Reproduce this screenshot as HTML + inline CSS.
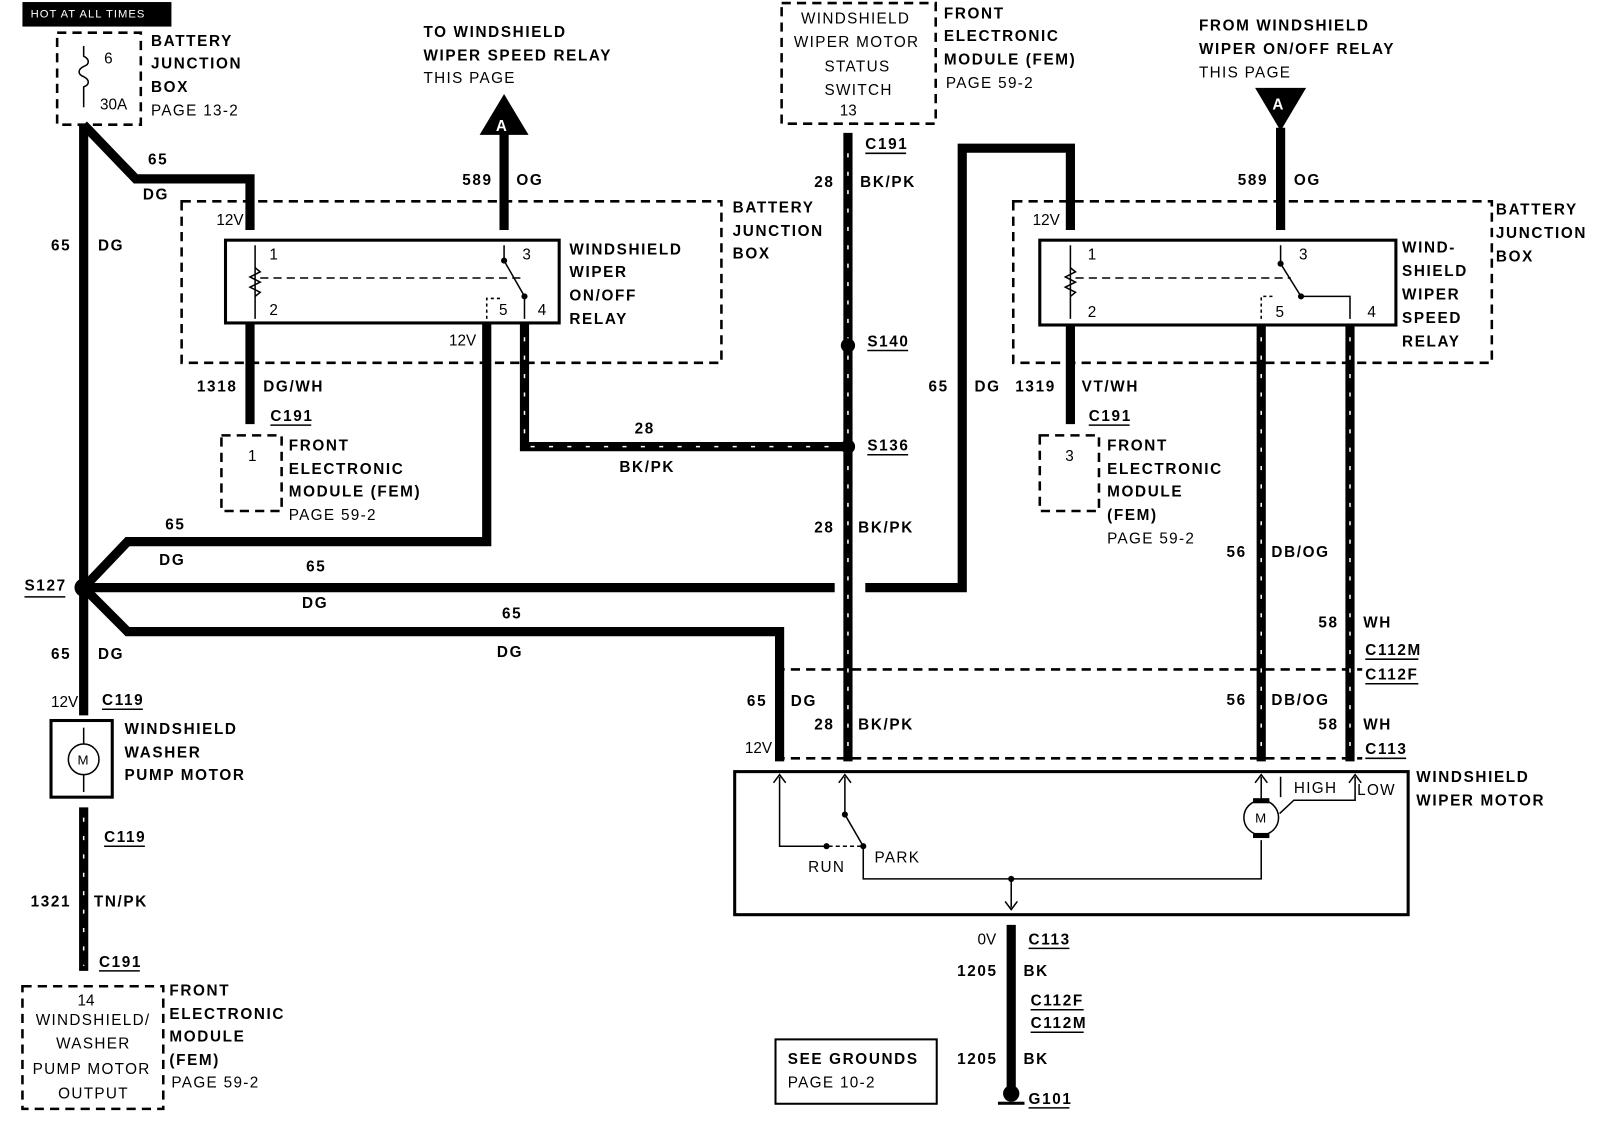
<!DOCTYPE html>
<html><head><style>
html,body{margin:0;padding:0;background:#fff;}
svg{display:block}
text{font-family:"Liberation Sans",sans-serif;font-size:15px;fill:#000;}
.b{font-weight:bold;letter-spacing:1.6px}
.s{font-size:11px}
.n{letter-spacing:1.3px}
</style></head><body>
<svg width="1600" height="1124" viewBox="0 0 1600 1124" xmlns="http://www.w3.org/2000/svg">
<g transform="scale(1.0204,1.022)">
<g fill="none" stroke="#000">
<g stroke-width="2.5" stroke-dasharray="9 6">
<rect x="56" y="32" width="82" height="90"/>
<rect x="178" y="197" width="529" height="158"/>
<rect x="217" y="426" width="59" height="74"/>
<rect x="766" y="3" width="151" height="118"/>
<rect x="993" y="197" width="469" height="158"/>
<rect x="1019" y="426" width="58" height="74"/>
<rect x="22" y="965" width="138" height="120"/>
<line x1="760" y1="655" x2="1335" y2="655"/>
<line x1="760" y1="742" x2="1335" y2="742"/>
</g>
<rect x="221" y="235" width="327" height="81" stroke-width="3"/>
<rect x="1019" y="235" width="349" height="83" stroke-width="3"/>
<rect x="720" y="755" width="660" height="140" stroke-width="3"/>
<rect x="50" y="705" width="60" height="75" stroke-width="3"/>
<rect x="760" y="1017" width="158" height="63" stroke-width="2"/>
<g stroke-width="9" stroke-linejoin="miter">
<polyline points="82,122 82,700"/>
<polyline points="82,122 133,175 245,175 245,225"/>
<line x1="494" y1="130" x2="494" y2="225"/>
<line x1="245" y1="316" x2="245" y2="415"/>
<polyline points="477,316 477,530 125,530 82,575"/>
<polyline points="514,316 514,437 831,437"/>
<line x1="831" y1="130" x2="831" y2="745"/>
<line x1="82" y1="575" x2="818" y2="575"/>
<polyline points="848,575 943,575 943,145 1049,145 1049,225"/>
<polyline points="82,575 125,618 764,618 764,745"/>
<line x1="1255" y1="125" x2="1255" y2="225"/>
<line x1="1049" y1="318" x2="1049" y2="415"/>
<line x1="1236" y1="318" x2="1236" y2="745"/>
<line x1="1323" y1="318" x2="1323" y2="745"/>
<line x1="82" y1="790" x2="82" y2="950"/>
<line x1="991" y1="905" x2="991" y2="1065"/>
</g>
<g stroke="#fff" stroke-width="1.5" stroke-dasharray="4 14">
<line x1="831" y1="150" x2="831" y2="740"/>
<line x1="514" y1="330" x2="514" y2="437"/>
<line x1="520" y1="437" x2="825" y2="437"/>
<line x1="1236" y1="330" x2="1236" y2="740"/>
<line x1="1323" y1="330" x2="1323" y2="740"/>
<line x1="82" y1="800" x2="82" y2="945"/>
</g>
<g stroke-width="1.5">
<line x1="250" y1="240" x2="250" y2="312"/>
<path d="M250 262 l5 4 -10 5 10 5 -10 5 10 5 -5 4"/>
<line x1="255" y1="272" x2="515" y2="272" stroke-dasharray="8 5"/>
<polyline points="494,240 494,255 514,290 514,312"/>
<polyline points="477,312 477,292 490,292" stroke-dasharray="3 3"/>
<line x1="1049" y1="240" x2="1049" y2="312"/>
<path d="M1049 262 l5 4 -10 5 10 5 -10 5 10 5 -5 4"/>
<line x1="1054" y1="272" x2="1265" y2="272" stroke-dasharray="8 5"/>
<polyline points="1255,240 1255,258 1275,290 1323,290 1323,312"/>
<polyline points="1236,312 1236,290 1250,290" stroke-dasharray="3 3"/>
<path d="M82 45 v10 c6 3 6 8 0 10 c-6 3 -6 8 0 10 c6 3 6 8 0 10 v20"/>
<polyline points="764,760 764,828 810,828"/>
<polyline points="828,760 828,797 846,828"/>
<line x1="812" y1="828" x2="846" y2="828" stroke-dasharray="4 3"/>
<polyline points="846,828 846,860 1236,860 1236,822"/>
<polyline points="1236,760 1236,782"/>
<circle cx="1236" cy="800" r="17"/>
<polyline points="1254,796 1268,783 1328,783 1328,760"/>
<line x1="1255" y1="760" x2="1255" y2="780"/>
<line x1="991" y1="860" x2="991" y2="888"/>
<circle cx="82" cy="743" r="15"/>
<line x1="82" y1="712" x2="82" y2="728"/><line x1="82" y1="758" x2="82" y2="775"/>
<path d="M758 766 l6-8 6 8 M822 766 l6-8 6 8 M1230 766 l6-8 6 8 M1322 766 l6-8 6 8 M985 882 l6 8 6-8"/>
<!-- underlines -->
<path d="M24 584 h40 M100 694 h40 M102 828 h40 M97 950 h40 M265 416 h40 M1067 416 h40 M848 150 h40 M850 343 h40 M850 445 h40 M1338 645 h52 M1338 669 h52 M1338 742 h40 M1008 928 h40 M1010 988 h52 M1010 1010 h52 M1008 1084 h40"/>
</g>
</g>
<rect x="22" y="2" width="146" height="24" fill="#000"/>
<text x="30" y="17" class="s" style="fill:#fff;letter-spacing:1px">HOT AT ALL TIMES</text>
<polygon points="494,92 470,132 518,132" fill="#000"/>
<text x="486" y="128" class="b" style="fill:#fff">A</text>
<polygon points="1230,86 1280,86 1255,128" fill="#000"/>
<text x="1247" y="107" class="b" style="fill:#fff">A</text>
<g fill="#000">
<circle cx="82" cy="575" r="9"/><circle cx="831" cy="338" r="7"/><circle cx="831" cy="437" r="7"/>
<circle cx="991" cy="1070" r="8"/><circle cx="828" cy="797" r="3"/><circle cx="810" cy="828" r="3"/><circle cx="846" cy="828" r="3"/>
<circle cx="991" cy="860" r="3"/><rect x="1228" y="781" width="16" height="5"/><rect x="1228" y="815" width="16" height="5"/>
<circle cx="494" cy="255" r="3"/><circle cx="514" cy="290" r="3"/><circle cx="1255" cy="258" r="3"/><circle cx="1275" cy="290" r="3"/>
</g>
<rect x="978" y="1078" width="26" height="3" fill="#000"/>
<g class="b">
<text x="148" y="45">BATTERY</text><text x="148" y="67">JUNCTION</text><text x="148" y="90">BOX</text>
<text x="415" y="36">TO WINDSHIELD</text><text x="415" y="59">WIPER SPEED RELAY</text>
<text x="925" y="18">FRONT</text><text x="925" y="40">ELECTRONIC</text><text x="925" y="63">MODULE (FEM)</text>
<text x="1175" y="30">FROM WINDSHIELD</text><text x="1175" y="53">WIPER ON/OFF RELAY</text>
<text x="145" y="161">65</text><text x="140" y="195">DG</text>
<text x="453" y="181">589</text><text x="506" y="181">OG</text>
<text x="798" y="183">28</text><text x="843" y="183">BK/PK</text><text x="848" y="146">C191</text>
<text x="1213" y="181">589</text><text x="1268" y="181">OG</text>
<text x="718" y="208">BATTERY</text><text x="718" y="231">JUNCTION</text><text x="718" y="253">BOX</text>
<text x="1466" y="210">BATTERY</text><text x="1466" y="233">JUNCTION</text><text x="1466" y="256">BOX</text>
<text x="50" y="245">65</text><text x="96" y="245">DG</text>
<text x="558" y="249">WINDSHIELD</text><text x="558" y="271">WIPER</text><text x="558" y="294">ON/OFF</text><text x="558" y="317">RELAY</text>
<text x="1374" y="247">WIND-</text><text x="1374" y="270">SHIELD</text><text x="1374" y="293">WIPER</text><text x="1374" y="316">SPEED</text><text x="1374" y="339">RELAY</text>
<text x="850" y="339">S140</text><text x="850" y="441">S136</text>
<text x="193" y="383">1318</text><text x="258" y="383">DG/WH</text><text x="265" y="412">C191</text>
<text x="910" y="383">65</text><text x="955" y="383">DG</text><text x="995" y="383">1319</text><text x="1060" y="383">VT/WH</text><text x="1067" y="412">C191</text>
<text x="622" y="424">28</text><text x="607" y="462">BK/PK</text>
<text x="283" y="441">FRONT</text><text x="283" y="464">ELECTRONIC</text><text x="283" y="486">MODULE (FEM)</text>
<text x="1085" y="441">FRONT</text><text x="1085" y="464">ELECTRONIC</text><text x="1085" y="486">MODULE</text><text x="1085" y="509">(FEM)</text>
<text x="162" y="518">65</text><text x="156" y="553">DG</text><text x="300" y="559">65</text><text x="296" y="595">DG</text>
<text x="798" y="521">28</text><text x="841" y="521">BK/PK</text>
<text x="1202" y="545">56</text><text x="1246" y="545">DB/OG</text>
<text x="24" y="578">S127</text>
<text x="492" y="605">65</text><text x="487" y="643">DG</text>
<text x="1292" y="614">58</text><text x="1336" y="614">WH</text><text x="1338" y="641">C112M</text><text x="1338" y="665">C112F</text>
<text x="50" y="645">65</text><text x="96" y="645">DG</text>
<text x="100" y="690">C119</text>
<text x="732" y="691">65</text><text x="775" y="691">DG</text><text x="1202" y="690">56</text><text x="1246" y="690">DB/OG</text>
<text x="798" y="714">28</text><text x="841" y="714">BK/PK</text><text x="1292" y="714">58</text><text x="1336" y="714">WH</text><text x="1338" y="738">C113</text>
<text x="122" y="718">WINDSHIELD</text><text x="122" y="741">WASHER</text><text x="122" y="763">PUMP MOTOR</text>
<text x="1388" y="765">WINDSHIELD</text><text x="1388" y="788">WIPER MOTOR</text>
<text x="102" y="824">C119</text><text x="30" y="887">1321</text><text x="92" y="887">TN/PK</text><text x="97" y="946">C191</text>
<text x="166" y="974">FRONT</text><text x="166" y="997">ELECTRONIC</text><text x="166" y="1019">MODULE</text><text x="166" y="1042">(FEM)</text>
<text x="1008" y="924">C113</text><text x="938" y="955">1205</text><text x="1003" y="955">BK</text>
<text x="1010" y="984">C112F</text><text x="1010" y="1006">C112M</text>
<text x="938" y="1041">1205</text><text x="1003" y="1041">BK</text><text x="1008" y="1080">G101</text>
<text x="772" y="1041">SEE GROUNDS</text>
</g>
<g class="n">
<text x="148" y="113">PAGE 13-2</text><text x="415" y="81">THIS PAGE</text>
<text x="785" y="23">WINDSHIELD</text><text x="778" y="46">WIPER MOTOR</text><text x="808" y="70">STATUS</text><text x="808" y="93">SWITCH</text>
<text x="927" y="86">PAGE 59-2</text><text x="1175" y="76">THIS PAGE</text>
<text x="283" y="509">PAGE 59-2</text><text x="1085" y="532">PAGE 59-2</text>
<text x="35" y="1003">WINDSHIELD/</text><text x="55" y="1026">WASHER</text><text x="32" y="1051">PUMP MOTOR</text><text x="57" y="1075">OUTPUT</text>
<text x="168" y="1064">PAGE 59-2</text><text x="772" y="1064">PAGE 10-2</text>
<text x="1268" y="776">HIGH</text><text x="1330" y="778">LOW</text><text x="857" y="844">PARK</text><text x="792" y="853">RUN</text>
<text x="1230" y="805" style="font-size:13px">M</text><text x="76" y="748" style="font-size:13px">M</text>
</g>
<g class="s">
<text x="102" y="62">6</text><text x="98" y="107">30A</text><text x="823" y="113">13</text>
<text x="212" y="220">12V</text><text x="440" y="338">12V</text><text x="1012" y="220">12V</text><text x="50" y="692">12V</text><text x="730" y="737">12V</text><text x="958" y="924">0V</text>
<text x="264" y="254">1</text><text x="264" y="308">2</text><text x="512" y="254">3</text><text x="527" y="308">4</text><text x="489" y="308">5</text>
<text x="1066" y="254">1</text><text x="1066" y="310">2</text><text x="1273" y="254">3</text><text x="1340" y="310">4</text><text x="1250" y="310">5</text>
<text x="243" y="451">1</text><text x="1044" y="451">3</text><text x="76" y="984">14</text>
</g>
</g>
</svg>
</body></html>
